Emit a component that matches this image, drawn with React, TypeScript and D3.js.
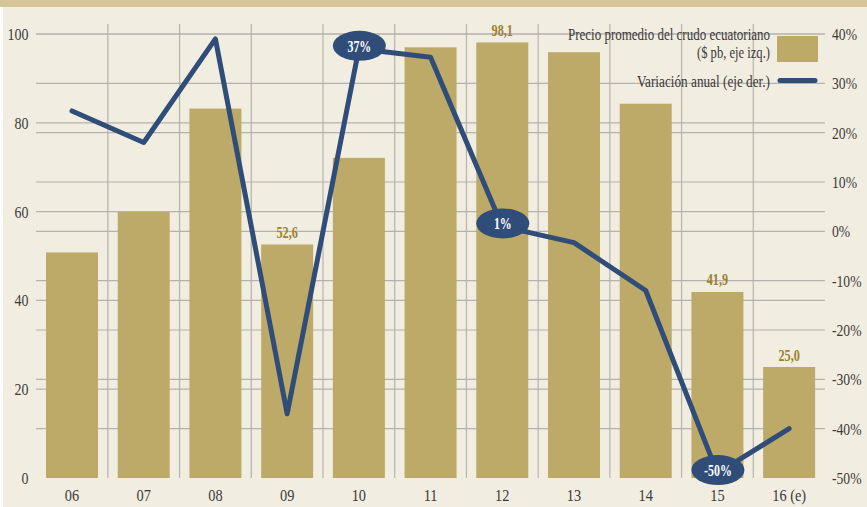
import React from 'react';
import * as d3 from 'd3';

const categories = ['06', '07', '08', '09', '10', '11', '12', '13', '14', '15', '16 (e)'];
const prices = [50.8, 59.9, 83.2, 52.6, 72.1, 97.0, 98.1, 95.9, 84.3, 41.9, 25.0];
const variation = [24.4, 18.0, 39.0, -37.0, 37.0, 35.3, 1.0, -2.3, -12.0, -49.0, -40.0];
const priceLabels: (string | null)[] = [null, null, null, '52,6', null, null, '98,1', null, null, '41,9', '25,0'];
const variationLabels: (string | null)[] = [null, null, null, null, '37%', null, '1%', null, null, '-50%', null];
const leftTicks = [0, 20, 40, 60, 80, 100];
const rightTicks = [-50, -40, -30, -20, -10, 0, 10, 20, 30, 40];
const legendPrice = ['Precio promedio del crudo ecuatoriano', '($ pb, eje izq.)'];
const legendVar = 'Variación anual (eje der.)';

const W = 867;
const H = 507;
const BG = '#f2ede1';
const BAND = '#d5c596';
const BAR = '#bda968';
const LINE = '#2f4d78';
const GRID = '#b4b2ad';
const TXT = '#3a3a3a';
const GOLD = '#98822a';
const FONT = "'Liberation Serif', 'DejaVu Serif', serif";

const x = d3.scaleBand<string>().domain(categories).range([36.15, 825]).padding(0);
const yL = d3.scaleLinear().domain([0, 100]).range([478, 34]);
const yR = d3.scaleLinear().domain([-50, 40]).range([478, 34]);
const barW = x.bandwidth() * 0.725;
const cx = (c: string) => (x(c) as number) + x.bandwidth() / 2;

function T({ x, y, sx = 0.8, anchor = 'start', size = 17, weight = 'normal', fill = TXT, children }: any) {
  return (
    <text
      transform={`translate(${x},${y}) scale(${sx},1)`}
      textAnchor={anchor}
      fontSize={size}
      fontWeight={weight}
      fill={fill}
      fontFamily={FONT}
    >
      {children}
    </text>
  );
}

export default function App() {
  const line = d3
    .line<number>()
    .x((_, i) => cx(categories[i]))
    .y((d) => yR(d));
  const boundaries = categories.slice(1).map((c) => x(c) as number);
  return (
    <svg width={W} height={H} style={{ position: 'absolute', left: 0, top: 0 }}>
      <rect x={0} y={0} width={W} height={H} fill={BG} />
      <rect x={0} y={7} width={3} height={H} fill="#ffffff" />
      <rect x={0} y={0} width={W} height={7} fill={BAND} />
      {leftTicks.slice(1).map((t) => (
        <line key={'gl' + t} x1={36} x2={825} y1={yL(t)} y2={yL(t)} stroke={GRID} strokeWidth={1.2} />
      ))}
      {rightTicks.slice(1).map((t) => (
        <line key={'gr' + t} x1={36} x2={825} y1={yR(t)} y2={yR(t)} stroke={GRID} strokeWidth={1.2} />
      ))}
      {boundaries.map((b, i) => (
        <line key={'v' + i} x1={b} x2={b} y1={24} y2={478} stroke={GRID} strokeWidth={1.2} />
      ))}
      {categories.map((c, i) => (
        <rect key={'b' + c} x={cx(c) - barW / 2} y={yL(prices[i])} width={barW} height={yL(0) - yL(prices[i])} fill={BAR} />
      ))}
      {categories.map((c, i) =>
        priceLabels[i] ? (
          <T key={'pl' + c} x={cx(c)} y={yL(prices[i]) - 6.5} anchor="middle" size={17} weight="bold" fill={GOLD} sx={0.72}>
            {priceLabels[i]}
          </T>
        ) : null
      )}
      <path d={line(variation) as string} fill="none" stroke={LINE} strokeWidth={5} strokeLinecap="round" strokeLinejoin="round" />
      {categories.map((c, i) =>
        variationLabels[i] ? (
          <g key={'vl' + c}>
            <ellipse cx={cx(c) + 0.5} cy={yR(variation[i]) - 3} rx={26.5} ry={15} fill={LINE} />
            <T x={cx(c) + 0.5} y={yR(variation[i]) + 3} anchor="middle" size={17} weight="bold" fill="#ffffff" sx={0.7}>
              {variationLabels[i]}
            </T>
          </g>
        ) : null
      )}
      {leftTicks.map((t) => (
        <T key={'lt' + t} x={28.5} y={yL(t) + 6} anchor="end" size={17.5} sx={0.8}>
          {t}
        </T>
      ))}
      {rightTicks.map((t) => (
        <T key={'rt' + t} x={832} y={yR(t) + 6} anchor="start" size={17.5} sx={0.78}>
          {t + '%'}
        </T>
      ))}
      {categories.map((c) => (
        <T key={'xt' + c} x={cx(c)} y={501} anchor="middle" size={17.5} sx={0.82}>
          {c}
        </T>
      ))}
      <text x={770} y={40} textAnchor="end" fontSize={16.5} fill={TXT} fontFamily={FONT} textLength={202} lengthAdjust="spacingAndGlyphs">
        {legendPrice[0]}
      </text>
      <text x={770} y={58} textAnchor="end" fontSize={16.5} fill={TXT} fontFamily={FONT} textLength={73} lengthAdjust="spacingAndGlyphs">
        {legendPrice[1]}
      </text>
      <rect x={777} y={36} width={41} height={26} fill={BAR} />
      <text x={770} y={86.5} textAnchor="end" fontSize={16.5} fill={TXT} fontFamily={FONT} textLength={133} lengthAdjust="spacingAndGlyphs">
        {legendVar}
      </text>
      <line x1={780} x2={815} y1={80.5} y2={80.5} stroke={LINE} strokeWidth={5} strokeLinecap="round" />
    </svg>
  );
}
